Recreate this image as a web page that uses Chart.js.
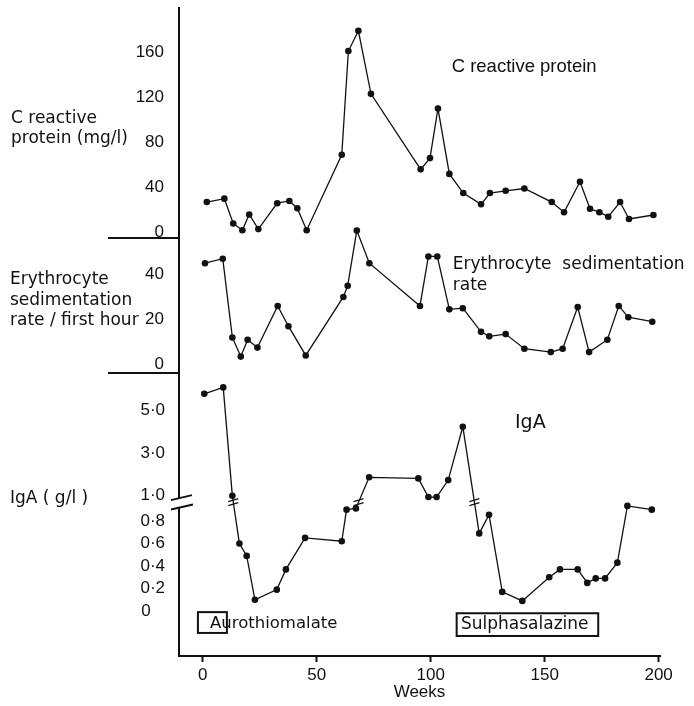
<!DOCTYPE html>
<html>
<head>
<meta charset="utf-8">
<script src="https://cdn.jsdelivr.net/npm/chart.js@4.4.1/dist/chart.umd.min.js"></script>
<style>
  html, body { margin: 0; padding: 0; background: #fff; }
  canvas { display: block; }
</style>
</head>
<body>
<canvas id="c" width="694" height="706"></canvas>
<script>
// ---------------- data ----------------
const xTicks = [0, 50, 100, 150, 200];
const crpTicks = [0, 40, 80, 120, 160];
const esrTicks = [0, 20, 40];
const igaTicks = [0, 0.2, 0.4, 0.6, 0.8, 1.0, 3.0, 5.0];

const crpWeeks  = [1.8, 9.5, 13.4, 17.4, 20.4, 24.4, 32.7, 38.0, 41.5, 45.6, 61.0, 63.9, 68.3, 73.8, 95.6, 99.7, 103.2, 108.2, 114.3, 122.1, 126.0, 132.9, 141.1, 153.1, 158.5, 165.5, 169.9, 174.0, 177.9, 183.1, 187.0, 197.7];
const crpValues = [27, 30, 8, 2, 16, 3, 26, 28, 21.5, 2, 69, 161, 179, 123, 56, 66, 110, 52, 35, 25, 35, 37, 39, 27, 18, 45, 21, 18, 14, 27, 12, 15.5];

const esrWeeks  = [1.0, 8.8, 13.0, 16.7, 19.7, 24.0, 32.9, 37.6, 45.2, 61.7, 63.6, 67.6, 73.1, 95.3, 99.0, 102.9, 108.2, 114.1, 122.1, 125.7, 132.9, 141.1, 152.7, 157.9, 164.5, 169.5, 177.5, 182.5, 186.7, 197.2];
const esrValues = [45, 47, 12, 3.5, 11, 7.5, 26, 17, 4, 30, 35, 59.5, 45, 26, 48, 48, 24.5, 25, 14.5, 12.5, 13.5, 7, 5.5, 7, 25.5, 5.5, 11, 26, 21, 19];

const igaWeeks  = [0.7, 9.0, 13.0, 16.1, 19.3, 22.9, 32.5, 36.5, 44.9, 61.0, 63.1, 67.2, 73.0, 94.6, 99.0, 102.6, 107.7, 114.1, 121.3, 125.6, 131.4, 140.2, 152.0, 156.7, 164.5, 168.7, 172.4, 176.5, 181.9, 186.3, 197.0];
const igaValues = [5.8, 6.1, 1.0, 0.6, 0.49, 0.1, 0.19, 0.37, 0.65, 0.62, 0.89, 0.9, 1.87, 1.82, 0.99, 0.99, 1.74, 4.25, 0.69, 0.85, 0.17, 0.09, 0.3, 0.37, 0.37, 0.25, 0.29, 0.29, 0.43, 0.92, 0.89];

// ---------------- broken IgA axis (0-0.8 expanded, break, 1-6 compressed) ----------------
function igaToAxis(v) {
  if (v <= 0.8) return v;
  if (v <= 1.0) return 0.8 + (v - 0.8) / 0.2 * 0.224;
  return 1.024 + (v - 1) * 0.1889;
}
function igaFromAxis(u) {
  if (u <= 0.8) return u;
  if (u <= 1.024) return 0.8 + (u - 0.8) / 0.224 * 0.2;
  return 1 + (u - 1.024) / 0.1889;
}
class BrokenLinearScale extends Chart.LinearScale {
  getPixelForValue(value) { return super.getPixelForValue(igaToAxis(value)); }
  getValueForPixel(pixel) { return igaFromAxis(super.getValueForPixel(pixel)); }
}
BrokenLinearScale.id = 'brokenLinear';
BrokenLinearScale.defaults = Chart.LinearScale.defaults;
Chart.register(BrokenLinearScale);

const INK = '#111';
const SANS = '"Liberation Sans", Arial, sans-serif';
const DEJA = '"DejaVu Sans", sans-serif';
Chart.defaults.font.family = SANS;
Chart.defaults.color = INK;

const pts = (ws, vs) => ws.map((w, i) => ({ x: w, y: vs[i] }));
const lineStyle = {
  borderColor: INK, borderWidth: 1.3, pointRadius: 3.3, pointHoverRadius: 3.3,
  pointBackgroundColor: INK, pointBorderWidth: 0, tension: 0, fill: false, clip: false
};
const noPad = s => { s.paddingTop = 0; s.paddingBottom = 0; s.paddingLeft = 0; s.paddingRight = 0; };

function yAxis(extra) {
  return Object.assign({
    type: 'linear', position: 'left', stack: 'panels', bounds: 'data',
    grid: { display: false, drawTicks: false },
    border: { display: true, color: INK, width: 2 },
    ticks: { autoSkip: false, padding: 15, color: INK, font: { size: 17, family: SANS } },
    afterFit: s => { s.width = 179; noPad(s); }
  }, extra);
}

// ---------------- decorations: separators, breaks, labels ----------------
const decor = {
  id: 'decor',
  afterDraw(chart) {
    const { ctx, chartArea, scales } = chart;
    const x = scales.x, yC = scales.yCrp, yE = scales.yEsr, yI = scales.yIga;
    ctx.save();
    ctx.strokeStyle = INK; ctx.fillStyle = INK; ctx.lineCap = 'butt';

    // panel separators to the left of the axis
    ctx.lineWidth = 2;
    [yC.bottom, yE.bottom].forEach(y => {
      ctx.beginPath(); ctx.moveTo(108, y); ctx.lineTo(chartArea.left + 1, y); ctx.stroke();
    });

    // axis break
    const ax = chartArea.left, c = yI.getPixelForValue(0.95);
    ctx.fillStyle = '#fff';
    ctx.fillRect(ax - 2, c - 3.5, 4, 9);
    ctx.fillStyle = INK;
    ctx.lineWidth = 2;
    ctx.beginPath(); ctx.moveTo(ax - 8, c - 2); ctx.lineTo(ax + 13, c - 7); ctx.stroke();
    ctx.beginPath(); ctx.moveTo(ax - 8, c + 7.3); ctx.lineTo(ax + 14, c + 2.3); ctx.stroke();

    // break marks on IgA line segments crossing the break
    const meta = chart.getDatasetMeta(2).data;
    ctx.lineWidth = 1.3;
    for (let i = 0; i < igaValues.length - 1; i++) {
      const a = igaValues[i], b = igaValues[i + 1];
      if ((a - 0.95) * (b - 0.95) < 0) {
        const pa = meta[i], pb = meta[i + 1];
        const t = (c - pa.y) / (pb.y - pa.y);
        const cx = pa.x + (pb.x - pa.x) * t;
        [-2, 2].forEach(k => {
          ctx.beginPath(); ctx.moveTo(cx - 5, c + k + 1.5); ctx.lineTo(cx + 5, c + k - 1.5); ctx.stroke();
        });
      }
    }

    function text(str, px, py, font, align) {
      ctx.font = font; ctx.textAlign = align || 'left'; ctx.textBaseline = 'middle';
      ctx.fillStyle = INK; ctx.fillText(str, px, py);
    }
    // left-hand titles
    const tf = '17px ' + DEJA;
    text('C reactive', 11, yC.getPixelForValue(101), tf);
    text('protein (mg/l)', 11, yC.getPixelForValue(83.5), tf);
    text('Erythrocyte', 10, yE.getPixelForValue(37.5), tf);
    text('sedimentation', 10, yE.getPixelForValue(28.5), tf);
    text('rate / first hour', 10, yE.getPixelForValue(19.5), tf);
    text('IgA ( g/l )', 10, yI.getPixelForValue(0.98), tf);

    // in-panel labels
    text('C reactive protein', x.getPixelForValue(109.2), yC.getPixelForValue(147), '18.5px ' + SANS);
    text('Erythrocyte  sedimentation', x.getPixelForValue(109.7), yE.getPixelForValue(44.2), '17px ' + DEJA);
    text('rate', x.getPixelForValue(109.7), yE.getPixelForValue(34.9), '17px ' + DEJA);
    text('IgA', x.getPixelForValue(137), yI.getPixelForValue(4.43), '19px ' + DEJA);

    // treatment boxes
    ctx.lineWidth = 2;
    const box = (w0, w1, v0, v1) => {
      const x0 = x.getPixelForValue(w0), x1 = x.getPixelForValue(w1);
      const y0 = yI.getPixelForValue(v0), y1 = yI.getPixelForValue(v1);
      ctx.strokeRect(x0, y0, x1 - x0, y1 - y0);
    };
    box(-2.1, 10.6, -0.01, -0.195);
    text('Aurothiomalate', x.getPixelForValue(3.2), yI.getPixelForValue(-0.114), '16.5px ' + DEJA);
    box(111.4, 173.5, -0.02, -0.222);
    text('Sulphasalazine', x.getPixelForValue(113.3), yI.getPixelForValue(-0.125), '17px ' + DEJA);

    ctx.restore();
  }
};

new Chart(document.getElementById('c'), {
  type: 'line',
  data: {
    datasets: [
      Object.assign({ label: 'C reactive protein', data: pts(crpWeeks, crpValues), yAxisID: 'yCrp' }, lineStyle),
      Object.assign({ label: 'Erythrocyte sedimentation rate', data: pts(esrWeeks, esrValues), yAxisID: 'yEsr' }, lineStyle),
      Object.assign({ label: 'IgA', data: pts(igaWeeks, igaValues), yAxisID: 'yIga' }, lineStyle)
    ]
  },
  options: {
    responsive: false,
    animation: false,
    devicePixelRatio: 1,
    layout: { padding: { top: 8, right: 34, bottom: 0, left: 0 } },
    plugins: { legend: { display: false }, tooltip: { enabled: false } },
    events: [],
    scales: {
      x: {
        type: 'linear', position: 'bottom', min: -10.4, max: 200.6, bounds: 'data',
        afterBuildTicks: s => { s.ticks = xTicks.map(v => ({ value: v })); },
        afterFit: s => { s.height = 50; noPad(s); },
        grid: { display: true, drawOnChartArea: false, drawTicks: true, tickLength: 6, tickWidth: 2, tickColor: INK, color: INK },
        border: { display: true, color: INK, width: 2 },
        ticks: { autoSkip: false, maxRotation: 0, padding: 3, color: INK, font: { size: 17, family: SANS } },
        title: { display: true, text: 'Weeks', color: INK, font: { size: 17, family: SANS }, padding: { top: 0, bottom: 3 } }
      },
      yCrp: yAxis({
        weight: 3, stackWeight: 230, min: -4.9, max: 199.2,
        afterBuildTicks: s => { s.ticks = crpTicks.map(v => ({ value: v })); }
      }),
      yEsr: yAxis({
        weight: 2, stackWeight: 135, min: -3.8, max: 56.2,
        afterBuildTicks: s => { s.ticks = esrTicks.map(v => ({ value: v })); }
      }),
      yIga: yAxis({
        type: 'brokenLinear', weight: 1, stackWeight: 283, min: -0.4, max: 2.1156,
        afterBuildTicks: s => { s.ticks = igaTicks.map(v => ({ value: v })); },
        ticks: {
          autoSkip: false, padding: 14, color: INK, font: { size: 17, family: SANS },
          callback: v => v === 0 ? '0\u2008\u2007' : v.toFixed(1).replace('.', '\u00B7')
        }
      })
    }
  },
  plugins: [decor]
});
</script>
</body>
</html>
